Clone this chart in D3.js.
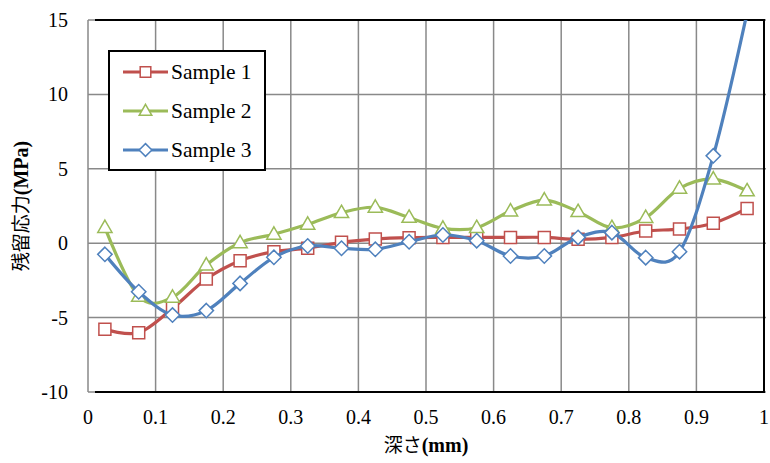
<!DOCTYPE html>
<html>
<head>
<meta charset="utf-8">
<script src="https://cdn.jsdelivr.net/npm/d3@7"></script>
<style>
  body { margin: 0; background: #fff; }
</style>
</head>
<body>
<div id="chart"></div>
<script>
// depth (mm) at each measuring point
var depth = [0.025, 0.075, 0.125, 0.175, 0.225, 0.275, 0.325, 0.375, 0.425, 0.475,
  0.525, 0.575, 0.625, 0.675, 0.725, 0.775, 0.825, 0.875, 0.925, 0.975]

var sample1 = [-5.79, -6.01, -4.38, -2.41, -1.18, -0.57, -0.34, 0.06, 0.28, 0.37,
  0.39, 0.39, 0.39, 0.39, 0.26, 0.39, 0.82, 0.95, 1.34, 2.34]
var sample2 = [1.05, -3.58, -3.64, -1.47, 0.03, 0.6, 1.27, 2.05, 2.41, 1.73,
  1.0, 1.04, 2.16, 2.9, 2.12, 1.04, 1.72, 3.69, 4.31, 3.51]
var sample3 = [-0.75, -3.26, -4.83, -4.53, -2.7, -0.95, -0.19, -0.34, -0.41, 0.1,
  0.55, 0.17, -0.86, -0.86, 0.39, 0.71, -0.97, -0.57, 5.87, 15.5]

var seriesNames = ['Sample 1', 'Sample 2', 'Sample 3']
var seriesColors = ['#C0504D', '#9BBB59', '#4F81BD']
var seriesMarkers = ['square', 'triangle', 'diamond']

var xTicks = [0, 0.1, 0.2, 0.3, 0.4, 0.5, 0.6, 0.7, 0.8, 0.9, 1]
var yTicks = [-10, -5, 0, 5, 10, 15]

var W = 770
var H = 463
var pLeft = 88
var pRight = 764
var pTop = 20
var pBottom = 392
var serif = '"Liberation Serif", "Times New Roman", "DejaVu Serif", serif'

var svg = d3.select('#chart').append('svg')
  .attr('width', W)
  .attr('height', H)
  .attr('font-family', serif)

var x = d3.scaleLinear().domain([0, 1]).range([pLeft, pRight])
var y = d3.scaleLinear().domain([-10, 15]).range([pBottom, pTop])

// grid
var grid = svg.append('g')
grid.selectAll('line.v').data(xTicks).enter().append('line')
  .attr('x1', function (d) { return x(d) }).attr('x2', function (d) { return x(d) })
  .attr('y1', pTop).attr('y2', pBottom)
  .attr('stroke', '#898989').attr('stroke-width', 1.5)
grid.selectAll('line.h').data(yTicks).enter().append('line')
  .attr('x1', pLeft).attr('x2', pRight + 2)
  .attr('y1', function (d) { return y(d) }).attr('y2', function (d) { return y(d) })
  .attr('stroke', '#898989').attr('stroke-width', 1.5)

// plot frame (black on top, right and bottom)
svg.append('path')
  .attr('d', 'M' + (pLeft + 7) + ',' + pTop + 'H' + pRight + 'V' + pBottom + 'H' + (pLeft + 7))
  .attr('stroke', '#000').attr('stroke-width', 2).attr('fill', 'none')

// tick labels
svg.append('g').selectAll('text').data(yTicks).enter().append('text')
  .attr('x', 68)
  .attr('y', function (d) { return y(d) + 7 })
  .attr('text-anchor', 'end')
  .attr('font-family', serif)
  .attr('font-size', 20)
  .text(function (d) { return d })

svg.append('g').selectAll('text').data(xTicks).enter().append('text')
  .attr('x', function (d) { return x(d) })
  .attr('y', 424)
  .attr('text-anchor', 'middle')
  .attr('font-family', serif)
  .attr('font-size', 20)
  .text(function (d) { return d })

// axis titles
var xt = svg.append('text')
  .attr('x', (pLeft + pRight) / 2)
  .attr('y', 452)
  .attr('text-anchor', 'middle')
  .attr('font-family', serif)
  .attr('font-size', 20)
xt.append('tspan').attr('font-family', '"Noto Sans CJK JP"').attr('font-size', 19).text('深さ')
xt.append('tspan').attr('font-weight', 'bold').text('(mm)')

var yt = svg.append('text')
  .attr('transform', 'translate(28,' + ((pTop + pBottom) / 2) + ') rotate(-90)')
  .attr('text-anchor', 'middle')
  .attr('font-family', serif)
  .attr('font-size', 20)
yt.append('tspan').attr('font-family', '"Noto Sans CJK JP"').attr('font-size', 19).text('残留応力')
yt.append('tspan').attr('font-weight', 'bold').text('(MPa)')

// clip
svg.append('clipPath').attr('id', 'plotclip')
  .append('rect').attr('x', pLeft).attr('y', pTop).attr('width', pRight - pLeft).attr('height', pBottom - pTop)

var line = d3.line()
  .x(function (d) { return x(d[0]) })
  .y(function (d) { return y(d[1]) })
  .curve(d3.curveCardinal.tension(0))

function markerPath (type, s) {
  if (type === 'square') {
    return 'M' + (-s) + ',' + (-s) + 'H' + s + 'V' + s + 'H' + (-s) + 'Z'
  } else if (type === 'triangle') {
    var r = s * 1.25
    return 'M0,' + (-r) + 'L' + (r * 0.95) + ',' + (r * 0.65) + 'L' + (-r * 0.95) + ',' + (r * 0.65) + 'Z'
  } else {
    var q = s * 1.2
    return 'M0,' + (-q) + 'L' + q + ',0L0,' + q + 'L' + (-q) + ',0Z'
  }
}

var allSeries = [sample1, sample2, sample3]
var plot = svg.append('g').attr('clip-path', 'url(#plotclip)')

allSeries.forEach(function (vals, i) {
  var pts = depth.map(function (d, j) { return [d, vals[j]] })
  var g = plot.append('g')
  g.append('path')
    .attr('d', line(pts))
    .attr('fill', 'none')
    .attr('stroke', seriesColors[i])
    .attr('stroke-width', 3.2)
  g.selectAll('path.m').data(pts).enter().append('path')
    .attr('class', 'm')
    .attr('transform', function (d) { return 'translate(' + x(d[0]) + ',' + y(d[1]) + ')' })
    .attr('d', markerPath(seriesMarkers[i], 6))
    .attr('fill', '#fff')
    .attr('stroke', seriesColors[i])
    .attr('stroke-width', 1.5)
})

// legend
var lg = svg.append('g')
lg.append('rect')
  .attr('x', 109).attr('y', 51).attr('width', 156).attr('height', 119)
  .attr('fill', '#fff').attr('stroke', '#000').attr('stroke-width', 2)
var legendY = [72, 111, 150]
seriesNames.forEach(function (name, i) {
  lg.append('line')
    .attr('x1', 123).attr('x2', 168)
    .attr('y1', legendY[i]).attr('y2', legendY[i])
    .attr('stroke', seriesColors[i]).attr('stroke-width', 3.2)
  lg.append('path')
    .attr('transform', 'translate(145.5,' + legendY[i] + ')')
    .attr('d', markerPath(seriesMarkers[i], 5.3))
    .attr('fill', '#fff')
    .attr('stroke', seriesColors[i])
    .attr('stroke-width', 1.5)
  lg.append('text')
    .attr('x', 171)
    .attr('y', legendY[i] + 7)
    .attr('font-family', serif)
    .attr('font-size', 21.5)
    .text(name)
})
</script>
</body>
</html>
